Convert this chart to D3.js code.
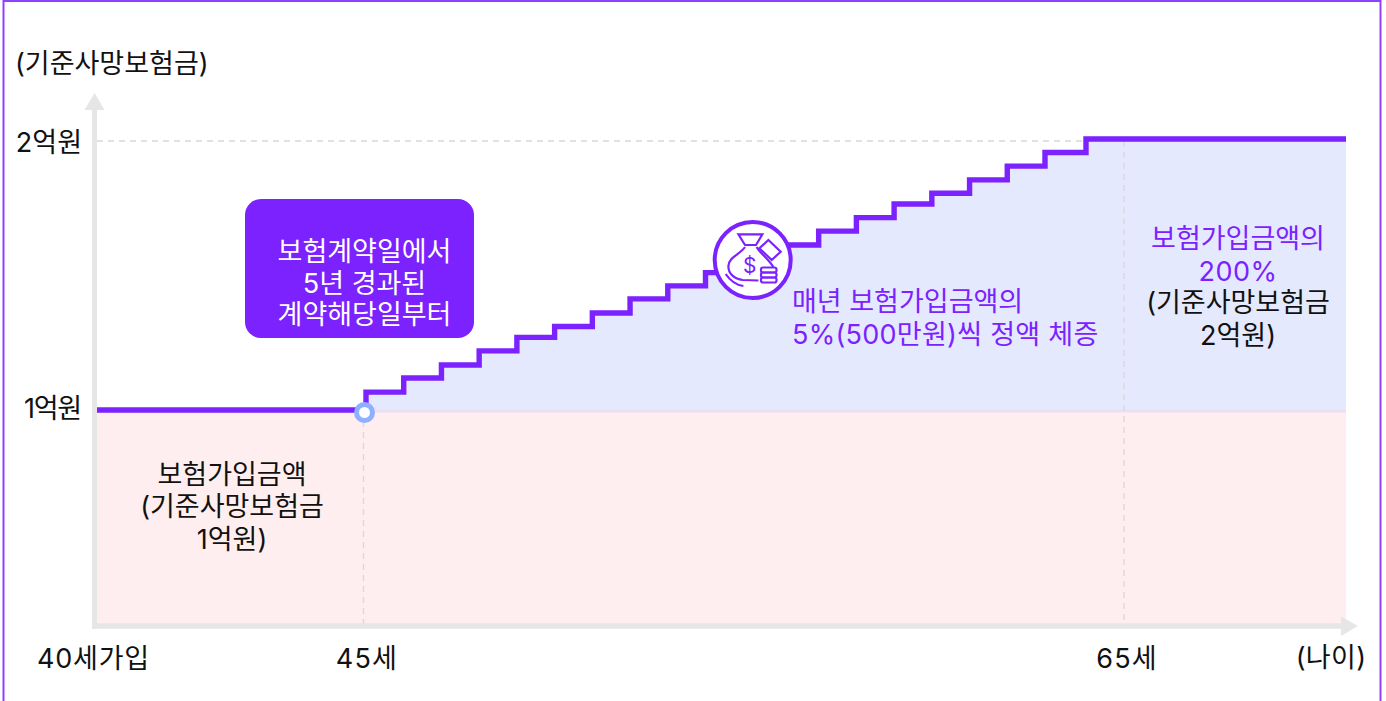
<!DOCTYPE html>
<html>
<head>
<meta charset="utf-8">
<title>기준사망보험금</title>
<script src="https://d3js.org/d3.v7.min.js"></script>
<style>
  html, body { margin: 0; padding: 0; background: #fff; }
  svg { display: block; }
  text { font-family: Inter, "Noto Sans CJK KR", sans-serif; }
</style>
</head>
<body>
<svg width="1386" height="701" id="mainSvg"></svg>
<script>
// age at each step (45 ~ 64), benefit in 억원
const stepAges = [45,46,47,48,49,50,51,52,53,54,55,56,57,58,59,60,61,62,63,64]
const stepValues = [1.066,1.118,1.166,1.218,1.268,1.308,1.358,1.41,1.458,1.507,1.559,1.609,1.66,1.71,1.76,1.8,1.849,1.9,1.95,2]
const baseValue = 1
const endAge = 71
const xTickAges = [40,45,65]
const xTickLabels = ["40세가입","45세","65세"]
const yTickValues = [1,2]
const yTickLabels = ["1억원","2억원"]

const purple = "#7b22ff"
const svg = d3.select("#mainSvg")

// x axis is not even: squeezed 40~45, last step is a bit wider
const x = d3.scaleLinear().domain([40,45,63,64,65,endAge]).range([97,366,1045,1086,1124,1346])
const y = d3.scaleLinear().domain([0,1,2]).range([625,410,139])

const points = [{age:40,v:baseValue},{age:45,v:baseValue}]
stepAges.forEach((a,i) => points.push({age:a,v:stepValues[i]}))
points.push({age:endAge,v:2})

// frame
svg.append("rect").attr("x",3.5).attr("y",1).attr("width",1377).attr("height",705)
  .attr("fill","none").attr("stroke","#9040ff").attr("stroke-width",2)

// areas
svg.append("rect").attr("x",x(40)).attr("y",y(1)).attr("width",x(endAge)-x(40)).attr("height",y(0)-y(1)).attr("fill","#feeeef")
const area = d3.area().x(d => x(d.age)).y0(y(1)).y1(d => y(d.v)).curve(d3.curveStepAfter)
svg.append("path").datum(points.slice(1)).attr("d",area).attr("fill","#e4e9fe")
svg.append("line").attr("x1",x(45)).attr("x2",x(endAge)).attr("y1",y(1)+1).attr("y2",y(1)+1)
  .attr("stroke","#ecdff3").attr("stroke-width",3)

// dashed guides
const dash = "6 5"
svg.append("line").attr("x1",x(40)).attr("x2",x(64)).attr("y1",y(2)+2).attr("y2",y(2)+2)
  .attr("stroke","#d8d8d8").attr("stroke-width",1.3).attr("stroke-dasharray",dash)
xTickAges.slice(1).forEach(a => {
  svg.append("line").attr("x1",a==45?x(a)-2.5:x(a)).attr("x2",a==45?x(a)-2.5:x(a)).attr("y1",a==45?y(1):y(2)+2).attr("y2",y(0))
    .attr("stroke","#d8d8d8").attr("stroke-width",1.3).attr("stroke-dasharray",dash)
})

// axes
const axisCol = "#e6e6e6"
svg.append("line").attr("x1",94.5).attr("x2",94.5).attr("y1",105).attr("y2",629).attr("stroke",axisCol).attr("stroke-width",5)
svg.append("path").attr("d","M94.5 93L104.5 110L84.5 110Z").attr("fill",axisCol)
svg.append("line").attr("x1",94).attr("x2",1345).attr("y1",626).attr("y2",626).attr("stroke",axisCol).attr("stroke-width",5.5)
svg.append("path").attr("d","M1358 626L1341 616.5L1341 636Z").attr("fill",axisCol)

// step line
const line = d3.line().x(d => x(d.age)).y(d => y(d.v)).curve(d3.curveStepAfter)
svg.append("path").datum(points).attr("d",line).attr("fill","none").attr("stroke",purple)
  .attr("stroke-width",5.4).attr("stroke-linejoin","miter")

// start marker
svg.append("circle").attr("cx",x(45)-1.5).attr("cy",y(1)+2.5).attr("r",8).attr("fill","#fff").attr("stroke","#8fb0ff").attr("stroke-width",5)

// money bag icon
const icon = svg.append("g").attr("transform","translate(752.7,260)")
icon.append("circle").attr("r",38).attr("fill","#fff").attr("stroke",purple).attr("stroke-width",4)
const ic = icon.append("g").attr("fill","none").attr("stroke",purple).attr("stroke-width",2.2)
ic.append("path").attr("d","M-14.3 -25.7L9.7 -25.7L3.3 -15L-7.7 -15Z")
ic.append("path").attr("d","M-7.7 -13C-12 -6 -24 -3 -24.3 6C-24.5 14 -18 19 -10 20L5.7 20.5")
ic.append("path").attr("d","M4 -13C7 -7 14 -3 20.7 7")
ic.append("path").attr("d","M15.7 -20L28 -8.3L19 0L6.7 -11.7Z")
ic.append("path").attr("d","M-27 14C-23 20 -17 25 -9.3 26")
ic.append("rect").attr("x",8.3).attr("y",7.5).attr("width",15.5).attr("height",5).attr("rx",2)
ic.append("rect").attr("x",8.3).attr("y",12.5).attr("width",15.5).attr("height",5).attr("rx",2)
ic.append("rect").attr("x",8.3).attr("y",17.5).attr("width",15.5).attr("height",5).attr("rx",2)
ic.append("text").attr("x",-3).attr("y",13).attr("text-anchor","middle").attr("font-size",21)
  .attr("fill",purple).attr("stroke","none").text("$")

// callout
svg.append("rect").attr("x",245).attr("y",199).attr("width",229).attr("height",139).attr("rx",16).attr("fill",purple)

const fontSize = 27
function label(x0, y0, str, fill, anchor, spacing) {
  svg.append("text").attr("x",x0).attr("y",y0).attr("font-size",fontSize).attr("fill",fill || "#111")
    .attr("text-anchor",anchor || "start").attr("letter-spacing",spacing || 0).text(str)
}

// several lines in one text element
function block(x0, ys, lines, anchor) {
  const t = svg.append("text").attr("font-size",fontSize).attr("text-anchor",anchor)
  lines.forEach((l,i) => t.append("tspan").attr("x",x0).attr("y",ys[i]).attr("fill",l[1])
    .attr("letter-spacing",l[2] || 0).text(l[0]))
}

label(15,73,"(기준사망보험금)")
yTickValues.forEach((v,i) => label([81,82][i],[418,152][i],yTickLabels[i],"#111","end",[-1.2,0][i]))
xTickAges.forEach((a,i) => label([93.5,367,1127][i],668,xTickLabels[i],"#111","middle",[0.8,1.2,1.2][i]))
label(1331,667,"(나이)","#111","middle",0.3)

block(364.5,[260.5,292.5,324],[["보험계약일에서","#fff"],["5년 경과된","#fff"],["계약해당일부터","#fff"]],"middle")
block(232,[484,516,549],[["보험가입금액","#111"],["(기준사망보험금","#111"],["1억원)","#111"]],"middle")
block(792,[311,344],[["매년 보험가입금액의",purple],["5%(500만원)씩 정액 체증",purple,0.27]],"start")
block(1238,[248,280.5,312,345],[["보험가입금액의",purple],["200%",purple,0.5],["(기준사망보험금","#111"],["2억원)","#111"]],"middle")
</script>
</body>
</html>
